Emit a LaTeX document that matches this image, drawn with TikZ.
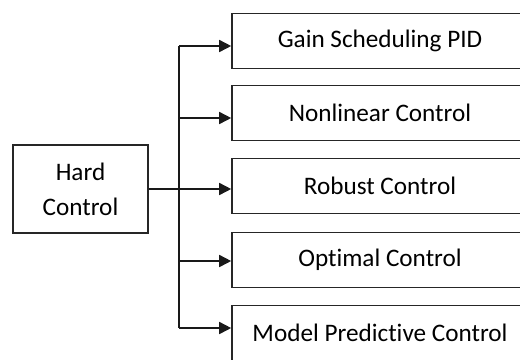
\documentclass[tikz,border=0pt]{standalone}
\usepackage{fontspec}
\setmainfont[Ligatures={NoCommon}]{Carlito}
\usetikzlibrary{arrows.meta}
\tikzset{
  box/.style={draw=black!85, line width=1.6bp, minimum width=296bp, minimum height=55bp, inner sep=0pt, font=\fontsize{25.3}{29}\selectfont},
  hardbox/.style={draw=black!85, line width=1.6bp, minimum width=135bp, minimum height=88bp, inner sep=0pt, align=center, font=\fontsize{25.3}{35}\selectfont},
  conn/.style={line width=1.6bp, draw=black!90},
  arr/.style={conn, -{Triangle[length=12bp,width=12bp]}}
}
\begin{document}
\begin{tikzpicture}[x=1bp,y=-1bp]
\useasboundingbox (0,0) rectangle (520,359);
\node[hardbox] (hard) at (80.5,189) {Hard\\Control};
\node[box] (gain) at (380,41) {Gain Scheduling PID};
\node[box] (nonlin) at (380,113) {Nonlinear Control};
\node[box] (robust) at (380,186) {Robust Control};
\node[box] (optimal) at (380,260) {Optimal Control};
\node[box] (mpc) at (380,333) {Model Predictive Control};
\coordinate (t1) at (179,46);
\coordinate (t2) at (179,118);
\coordinate (t4) at (179,261);
\coordinate (t5) at (179,328);
\draw[arr] (hard.east) -- (hard.east -| robust.west);
\draw[conn] (t1) -- (t5);
\draw[arr] (t1) -- (t1 -| gain.west);
\draw[arr] (t2) -- (t2 -| nonlin.west);
\draw[arr] (t4) -- (t4 -| optimal.west);
\draw[arr] (t5) -- (t5 -| mpc.west);
\end{tikzpicture}
\end{document}
